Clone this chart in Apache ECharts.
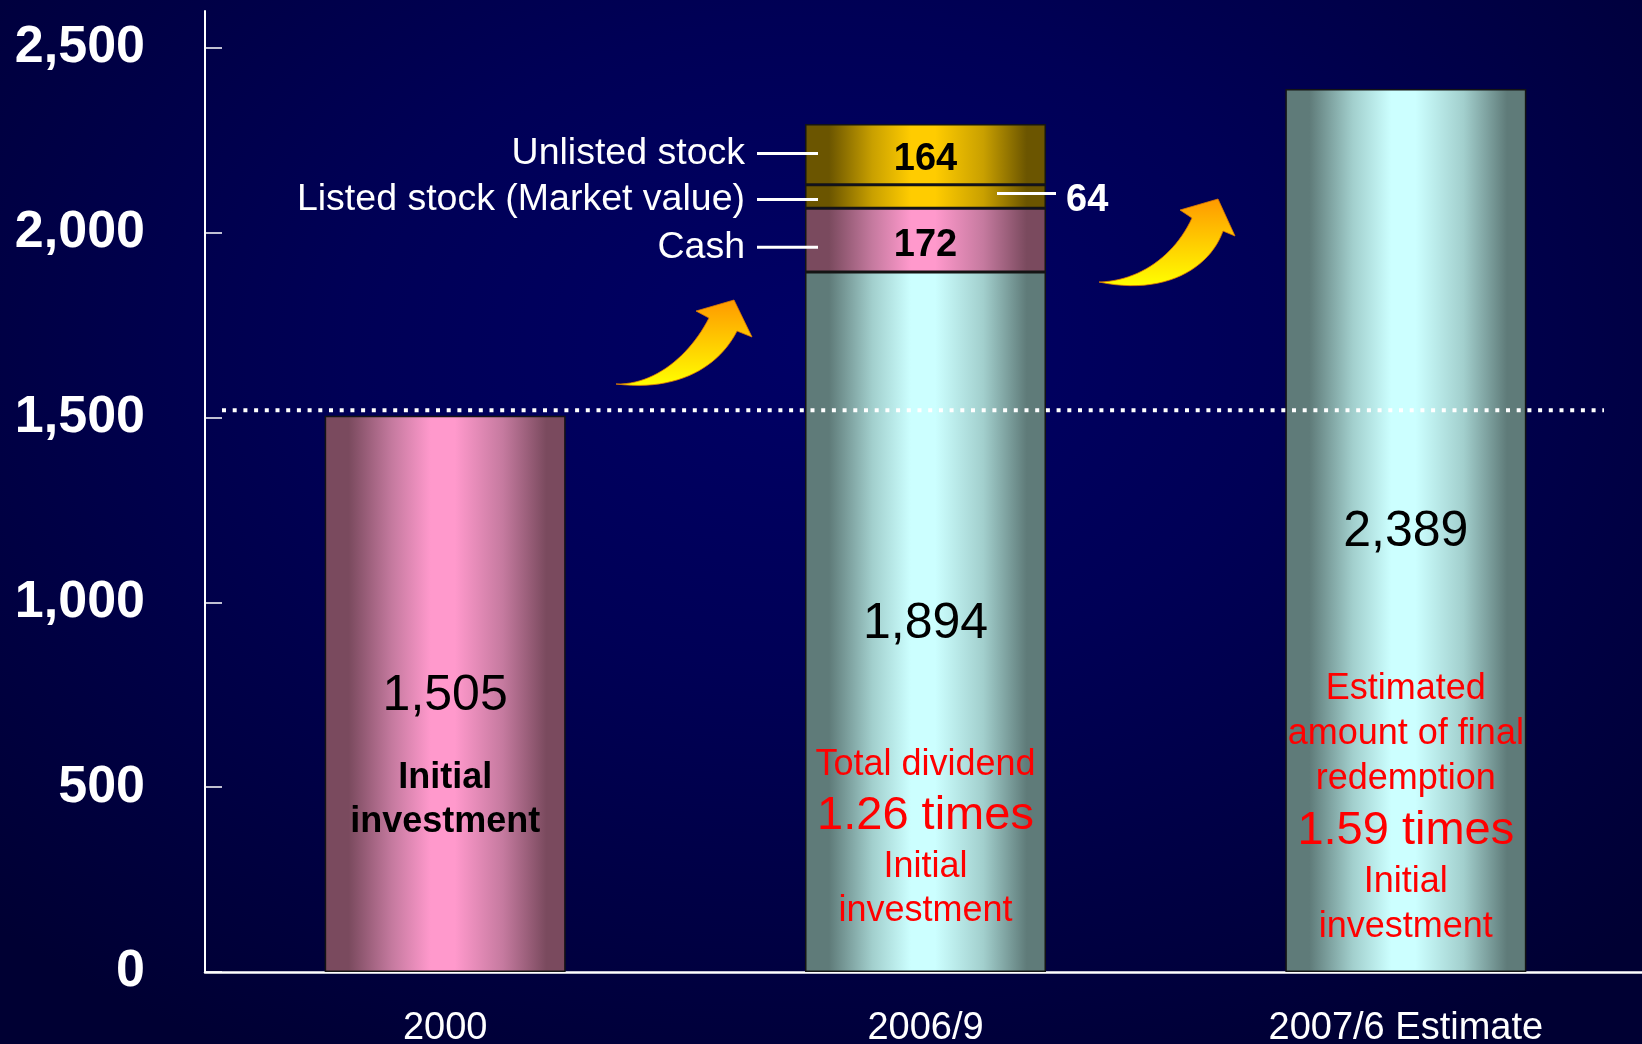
<!DOCTYPE html>
<html>
<head>
<meta charset="utf-8">
<title>Fund value</title>
<script src="https://cdn.jsdelivr.net/npm/echarts@6/dist/echarts.min.js"></script>
<style>
  html, body { margin: 0; padding: 0; }
  #chart {
    width: 1642px;
    height: 1044px;
    background: radial-gradient(ellipse 72% 78% at 50% 33%, #000066 0%, #000056 40%, #000033 100%);
  }
</style>
</head>
<body>
<div id="chart"></div>
<script>
// ---- data ----
const categories = ['2000', '2006/9', '2007/6 Estimate'];
const baseValues = [1505, 1894, 2389];
const cashValues = ['-', 172, '-'];
const listedValues = ['-', 64, '-'];
const unlistedValues = ['-', 164, '-'];
const yTickValues = [0, 500, 1000, 1500, 2000, 2500];
const referenceLevel = 1520;
const breakdownLabels = ['Cash', 'Listed stock (Market value)', 'Unlisted stock'];

const FONT = "'Liberation Sans', Arial, Helvetica, sans-serif";
const fmt = v => Number(v).toLocaleString('en-US');

// horizontal "cylinder" shading for the bars
function shade(edge, mid, center) {
  return new echarts.graphic.LinearGradient(0, 0, 1, 0, [
    { offset: 0, color: edge },
    { offset: 0.1, color: edge },
    { offset: 0.28, color: mid },
    { offset: 0.44, color: center },
    { offset: 0.54, color: center },
    { offset: 0.74, color: mid },
    { offset: 0.92, color: edge },
    { offset: 1, color: edge }
  ]);
}
const pink = () => shade('#7a4a5e', '#c57a9f', '#ff99cc');
const cyan = () => shade('#5f7b79', '#a2cfcd', '#ccffff');
const gold = () => shade('#6b5500', '#c9a000', '#ffcc00');

const barBorder = { borderColor: '#141414', borderWidth: 1.5 };

const chart = echarts.init(document.getElementById('chart'), null, { renderer: 'canvas' });

chart.setOption({
  animation: false,
  backgroundColor: 'transparent',
  grid: { left: 205, right: -4, top: 11, bottom: 72, containLabel: false, outerBoundsMode: 'none' },
  xAxis: {
    type: 'category',
    data: categories,
    axisLine: { lineStyle: { color: '#ffffff', width: 2.5 } },
    axisTick: { inside: true, length: 12, lineStyle: { color: '#ffffff', width: 1.5 } },
    axisLabel: { color: '#ffffff', fontSize: 38, fontFamily: FONT, margin: 38 },
    splitLine: { show: false }
  },
  yAxis: {
    type: 'value',
    min: 0,
    max: 2600,
    interval: 500,
    axisLine: { show: true, lineStyle: { color: '#ffffff', width: 2 } },
    axisTick: { show: true, inside: true, length: 17, customValues: yTickValues,
      lineStyle: { color: '#ffffff', width: 1.5 } },
    axisLabel: { color: '#ffffff', fontSize: 52, fontWeight: 'bold', fontFamily: FONT,
      margin: 60, customValues: yTickValues, formatter: v => fmt(v),
      padding: [3, 0, 0, 0] },
    splitLine: { show: false }
  },
  series: [
    {
      name: 'Fund value',
      type: 'bar',
      stack: 'total',
      barWidth: 241,
      data: baseValues.map((v, i) => ({
        value: v,
        itemStyle: Object.assign({ color: i === 0 ? pink() : cyan() }, barBorder)
      })),
      label: {
        show: true, position: 'inside', offset: [0, 2], formatter: p => fmt(p.value),
        color: '#000000', fontSize: 50, fontFamily: FONT
      }
    },
    {
      name: breakdownLabels[0],
      type: 'bar',
      stack: 'total',
      data: cashValues,
      itemStyle: Object.assign({ color: pink() }, barBorder),
      label: { show: true, position: 'inside', offset: [0, 5], color: '#000000', fontSize: 38,
        fontWeight: 'bold', fontFamily: FONT }
    },
    {
      name: breakdownLabels[1],
      type: 'bar',
      stack: 'total',
      data: listedValues,
      itemStyle: Object.assign({ color: gold() }, barBorder),
      label: { show: true, position: 'right', distance: 20, offset: [0, 4], color: '#ffffff',
        fontSize: 38, fontWeight: 'bold', fontFamily: FONT }
    },
    {
      name: breakdownLabels[2],
      type: 'bar',
      stack: 'total',
      data: unlistedValues,
      itemStyle: Object.assign({ color: gold() }, barBorder),
      label: { show: true, position: 'inside', offset: [0, 5], color: '#000000', fontSize: 38,
        fontWeight: 'bold', fontFamily: FONT }
    }
  ]
});

// ---- annotations placed through the chart's own scales ----
const xPix = i => chart.convertToPixel({ xAxisIndex: 0 }, i);
const yPix = v => chart.convertToPixel({ yAxisIndex: 0 }, v);
const halfBar = 241 / 2;

const graphics = [];

// reference level (initial investment) as a dotted line
const refY = yPix(referenceLevel);
graphics.push({
  type: 'line', z: 50,
  shape: { x1: 222, y1: refY, x2: 1604, y2: refY },
  style: { stroke: '#ffffff', lineWidth: 4, lineDash: [4, 6.7], lineCap: 'butt' }
});

// breakdown call-outs for the 2006/9 bar
const c = 1;
const barLeft = xPix(c) - halfBar;
const barRight = xPix(c) + halfBar;
const calloutShift = [7, 3, -1];
let acc = baseValues[c];
const segs = [cashValues[c], listedValues[c], unlistedValues[c]];
segs.forEach((v, k) => {
  const mid = yPix(acc + v / 2) + calloutShift[k];
  acc += v;
  graphics.push({
    type: 'line', z: 50,
    shape: { x1: barLeft - 48, y1: mid, x2: barLeft + 13, y2: mid },
    style: { stroke: '#ffffff', lineWidth: 3 }
  });
  graphics.push({
    type: 'text', z: 50,
    style: { text: breakdownLabels[k], x: barLeft - 60, y: mid, align: 'right',
      verticalAlign: 'middle', fill: '#ffffff', fontSize: 37.5, fontFamily: FONT }
  });
});
// leader for the small listed-stock slice
const listedMid = yPix(baseValues[c] + cashValues[c] + listedValues[c] / 2);
graphics.push({
  type: 'line', z: 50,
  shape: { x1: barRight - 49, y1: listedMid - 3, x2: barRight + 10, y2: listedMid - 3 },
  style: { stroke: '#ffffff', lineWidth: 3 }
});

// notes inside the bars
graphics.push({
  type: 'text', z: 50,
  style: {
    text: 'Initial\ninvestment', x: xPix(0), y: 756, align: 'center', verticalAlign: 'top',
    fill: '#000000', fontSize: 36, fontWeight: 'bold', fontFamily: FONT, lineHeight: 44
  }
});
graphics.push({
  type: 'text', z: 50,
  style: {
    text: '{a|Total dividend}\n{b|1.26 times}\n{a|Initial}\n{a|investment}',
    x: xPix(1), y: 743, align: 'center', verticalAlign: 'top',
    rich: {
      a: { fontSize: 36, lineHeight: 44, fill: '#ff0000', fontFamily: FONT, align: 'center' },
      b: { fontSize: 47, lineHeight: 58, fill: '#ff0000', fontFamily: FONT, align: 'center' }
    }
  }
});
graphics.push({
  type: 'text', z: 50,
  style: {
    text: '{a|Estimated}\n{a|amount of final}\n{a|redemption}\n{b|1.59 times}\n{a|Initial}\n{a|investment}',
    x: xPix(2), y: 667, align: 'center', verticalAlign: 'top',
    rich: {
      a: { fontSize: 36, lineHeight: 45, fill: '#ff0000', fontFamily: FONT, align: 'center' },
      b: { fontSize: 47, lineHeight: 58, fill: '#ff0000', fontFamily: FONT, align: 'center' }
    }
  }
});

// curved "growth" arrows
function cubic(p0, p1, p2, p3, n) {
  const pts = [];
  for (let i = 1; i <= n; i++) {
    const t = i / n, u = 1 - t;
    pts.push([
      u * u * u * p0[0] + 3 * u * u * t * p1[0] + 3 * u * t * t * p2[0] + t * t * t * p3[0],
      u * u * u * p0[1] + 3 * u * u * t * p1[1] + 3 * u * t * t * p2[1] + t * t * t * p3[1]
    ]);
  }
  return pts;
}
function arrow(tail, c1, c2, neckL, barbL, tip, barbR, neckR, d1, d2) {
  const pts = [tail]
    .concat(cubic(tail, c1, c2, neckL, 24))
    .concat([barbL, tip, barbR, neckR])
    .concat(cubic(neckR, d1, d2, tail, 24).slice(0, -1));
  return {
    type: 'polygon', z: 40,
    shape: { points: pts },
    style: {
      fill: new echarts.graphic.LinearGradient(0, 0, 0, 1, [
        { offset: 0, color: '#ff9900' },
        { offset: 0.5, color: '#ffcc00' },
        { offset: 1, color: '#ffff00' }
      ]),
      stroke: '#e07a00', lineWidth: 0.8
    }
  };
}
graphics.push(arrow([616, 384], [655, 385], [690, 355], [709, 318],
  [696, 311], [734, 300], [752, 337], [737, 331], [720, 365], [680, 392]));
graphics.push(arrow([1099, 282], [1140, 281], [1175, 255], [1192, 218],
  [1180, 210], [1218, 199], [1235, 236], [1223, 231], [1210, 268], [1165, 296]));

chart.setOption({ graphic: graphics });
</script>
</body>
</html>
